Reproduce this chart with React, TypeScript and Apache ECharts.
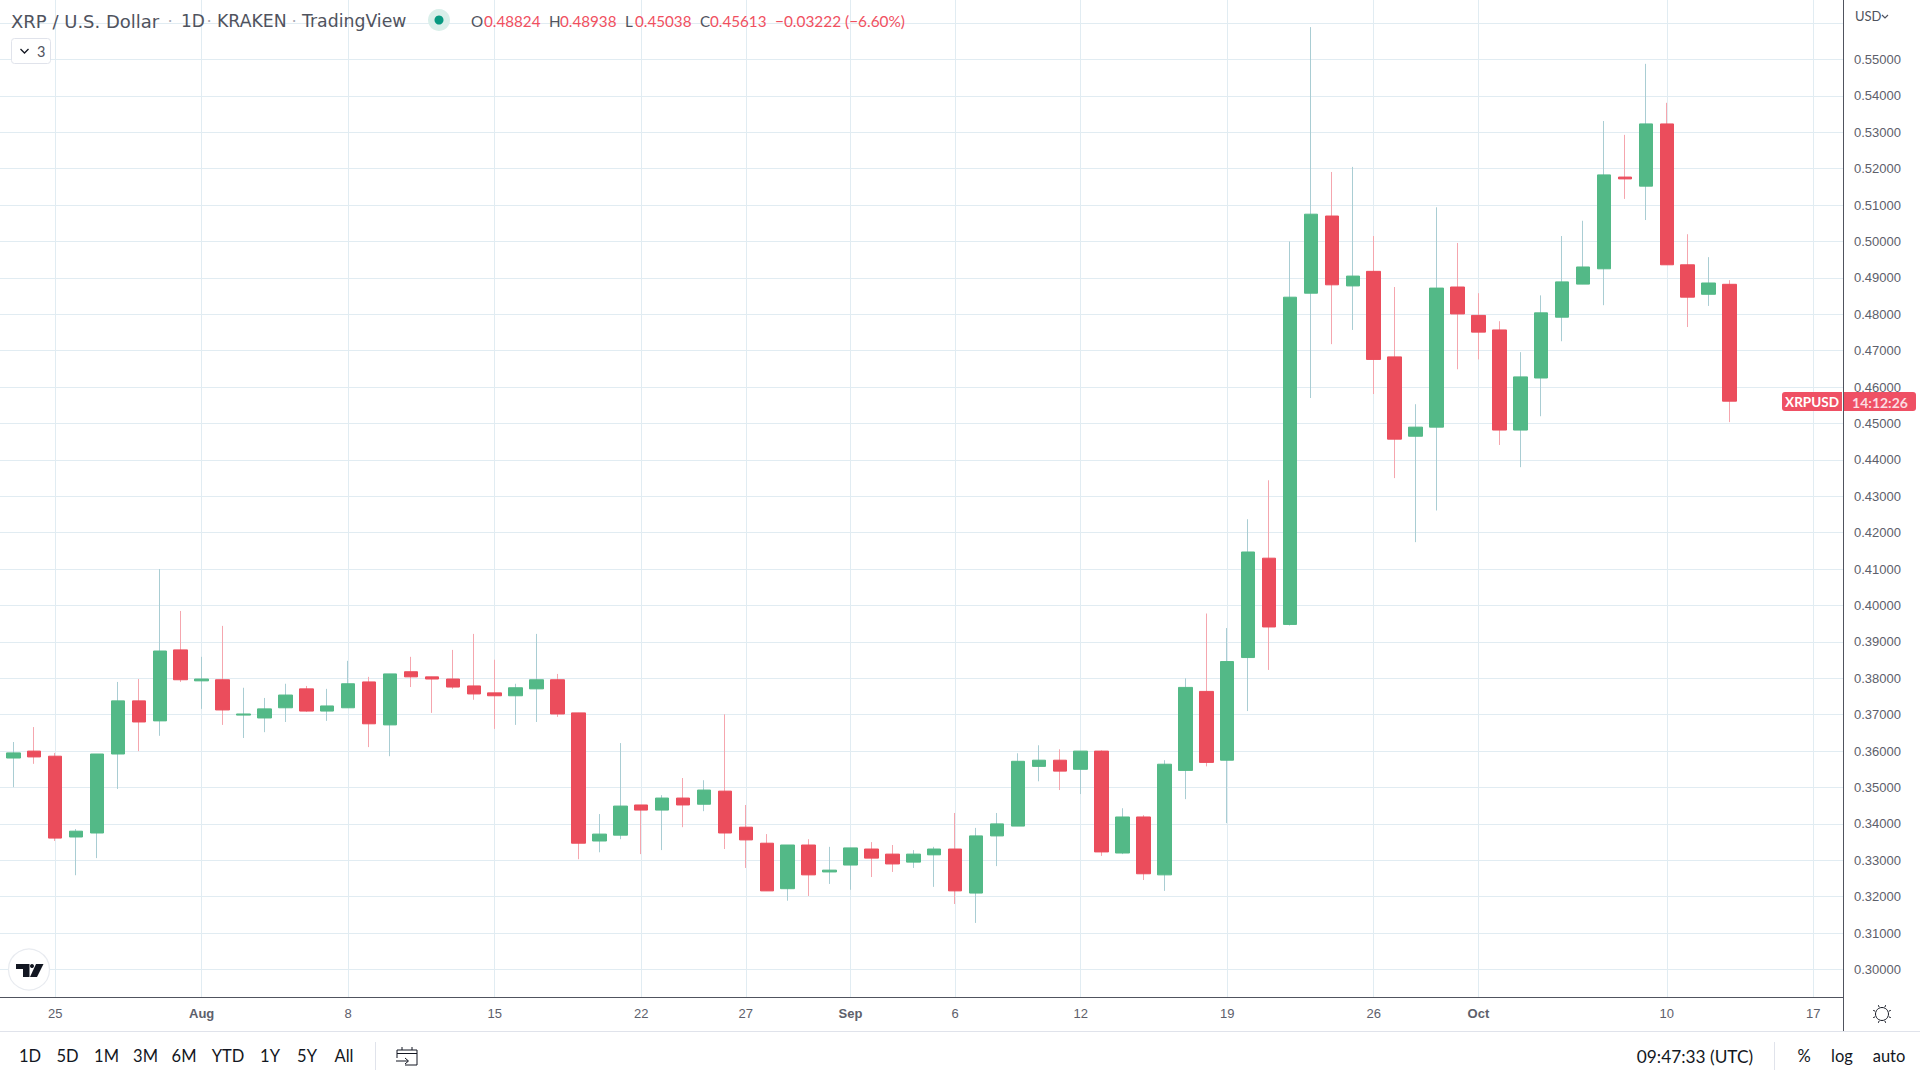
import React, { useEffect, useRef } from "react";
import * as echarts from "echarts";

const opens = [
  0.3672, 0.3581, 0.36, 0.3586, 0.3364, 0.3375, 0.3592, 0.3738, 0.3683, 0.3878,
  0.3793, 0.3796, 0.3699, 0.3691, 0.3719, 0.3771, 0.371, 0.3719, 0.379, 0.3672,
  0.3818, 0.3804, 0.3798, 0.3779, 0.376, 0.3752, 0.3771, 0.3796, 0.3705, 0.3353, 0.3369,
  0.3452, 0.3438, 0.3471, 0.3454, 0.349, 0.3391, 0.3347, 0.3222, 0.3342, 0.3268,
  0.3287, 0.3331, 0.3317, 0.3295, 0.3315, 0.3331, 0.321, 0.3367, 0.3394, 0.3558,
  0.3575, 0.355, 0.36, 0.332, 0.3419, 0.326, 0.3547, 0.3764, 0.3575, 0.3857,
  0.413, 0.3948, 0.4858, 0.507, 0.4878, 0.4918, 0.4683, 0.4465, 0.449, 0.4875,
  0.4797, 0.4757, 0.4482, 0.4625, 0.4792, 0.4883, 0.4925, 0.5177, 0.5152, 0.5323,
  0.4936, 0.4855, 0.48824,
];
const closes = [
  0.3584, 0.3595, 0.3584, 0.3361, 0.338, 0.3592, 0.3738, 0.368, 0.3875, 0.3796,
  0.3798, 0.3713, 0.3702, 0.3716, 0.3754, 0.371, 0.3724, 0.3785, 0.3675, 0.3812,
  0.3804, 0.3798, 0.3776, 0.3757, 0.3752, 0.3774, 0.3796, 0.3702, 0.3347, 0.3372, 0.3449,
  0.3438, 0.3471, 0.3452, 0.3493, 0.3375, 0.3356, 0.3216, 0.3342, 0.326, 0.3273,
  0.3334, 0.3306, 0.329, 0.3317, 0.3331, 0.3216, 0.3367, 0.34, 0.3572, 0.3575,
  0.3545, 0.36, 0.3323, 0.3419, 0.3263, 0.3564, 0.3775, 0.3569, 0.3846, 0.4147,
  0.3941, 0.4847, 0.5075, 0.4881, 0.4905, 0.4676, 0.4457, 0.449, 0.4872, 0.4801,
  0.4751, 0.4482, 0.4628, 0.4804, 0.4889, 0.493, 0.5183, 0.5172, 0.5323, 0.4936,
  0.4847, 0.4886, 0.45613,
];
const lows = [
  0.357, 0.3501, 0.3565, 0.3353, 0.3259, 0.3306, 0.3496, 0.36, 0.3642, 0.379,
  0.3716, 0.3672, 0.3636, 0.3652, 0.368, 0.3708, 0.3683, 0.3719, 0.3611, 0.3586,
  0.3776, 0.3705, 0.3771, 0.3741, 0.3661, 0.3672, 0.368, 0.3694, 0.3303, 0.3322, 0.3358,
  0.3317, 0.3328, 0.3391, 0.3435, 0.3331, 0.3279, 0.3216, 0.3189, 0.3202, 0.3235,
  0.3219, 0.3254, 0.3268, 0.3279, 0.3227, 0.318, 0.3128, 0.3284, 0.3394, 0.3517,
  0.3493, 0.3482, 0.3312, 0.3317, 0.3246, 0.3216, 0.3468, 0.3558, 0.3402, 0.371,
  0.3823, 0.3945, 0.457, 0.4718, 0.4757, 0.4581, 0.435, 0.4174, 0.4261, 0.4649,
  0.4676, 0.4441, 0.438, 0.452, 0.4726, 0.4883, 0.4825, 0.5117, 0.5059, 0.4936,
  0.4765, 0.4823, 0.45038,
];
const highs = [
  0.368, 0.3625, 0.3666, 0.3595, 0.3386, 0.3592, 0.379, 0.3798, 0.41, 0.3985,
  0.3859, 0.3944, 0.3774, 0.3746, 0.3785, 0.3779, 0.3771, 0.3848, 0.3804, 0.3812,
  0.3859, 0.3804, 0.3878, 0.3922, 0.3851, 0.3785, 0.3922, 0.3812, 0.3705, 0.3427, 0.3622,
  0.3452, 0.3479, 0.3526, 0.352, 0.3701, 0.3452, 0.3372, 0.3342, 0.3358, 0.3337,
  0.3334, 0.335, 0.3342, 0.3328, 0.3337, 0.343, 0.3389, 0.343, 0.3594, 0.3616,
  0.3605, 0.36, 0.3602, 0.3443, 0.3424, 0.3575, 0.38, 0.3978, 0.3938, 0.4237,
  0.4344, 0.5, 0.5589, 0.5191, 0.5205, 0.5015, 0.4875, 0.4553, 0.5094, 0.4996,
  0.4858, 0.4781, 0.4696, 0.4852, 0.5015, 0.5057, 0.5331, 0.5293, 0.5488, 0.5381,
  0.502, 0.4957, 0.48938,
];
// Day index 0 is 22 July.
const tickDays = [3, 10, 17, 24, 31, 36, 41, 46, 52, 59, 66, 71, 80, 87];
const tickLabels = ["25", "Aug", "8", "15", "22", "27", "Sep", "6", "12", "19", "26", "Oct", "10", "17"];
const monthLabels = ["Aug", "Sep", "Oct"];
const priceTicks = [0.3, 0.31, 0.32, 0.33, 0.34, 0.35, 0.36, 0.37, 0.38, 0.39, 0.4, 0.41, 0.42, 0.43, 0.44, 0.45, 0.46, 0.47, 0.48, 0.49, 0.5, 0.51, 0.52, 0.53, 0.54, 0.55];
const gridPrices = [...priceTicks, 0.56];
const rangeButtons: [string, number][] = [["1D", 30], ["5D", 67.5], ["1M", 106.5], ["3M", 145.5], ["6M", 184], ["YTD", 228], ["1Y", 270], ["5Y", 307], ["All", 344]];

const UP = "#53b987";
const DOWN = "#eb4d5c";
const WICK_UP = "#a9cdd3";
const WICK_DOWN = "#f5a6ae";
const GRID = "#e1ecf2";
const AXIS = "#50535e";
const TEXT = "#5d606b";
const INK = "#131722";
const UI = "Lato, 'Liberation Sans', sans-serif";
const HEAD = "'DejaVu Sans', 'Open Sans', sans-serif";
const AX = "'Liberation Sans', Arial, sans-serif";
const PW = 1843;
const PH = 997;

function t(text: string, x: number, y: number, fill: string, size = 16, align = "left", extra: any = {}) {
  return { type: "text", z: 50, x, y, style: { text, fill, font: `${extra.weight || "normal"} ${size}px ${extra.family || UI}`, align, verticalAlign: "middle" } };
}
function line(x1: number, y1: number, x2: number, y2: number, stroke: string, lineWidth = 1) {
  return { type: "line", z: 50, shape: { x1, y1, x2, y2 }, style: { stroke, lineWidth } };
}

function buildGraphics() {
  const g: any[] = [];
  const h = { family: HEAD };
  // header
  g.push(t("XRP / U.S. Dollar", 11, 21, AXIS, 18, "left", h));
  g.push(t("·", 170, 21, "#a8abb5", 16.5, "center", h));
  g.push(t("1D", 181, 21, AXIS, 17, "left", h));
  g.push(t("·", 209, 21, "#a8abb5", 16.5, "center", h));
  g.push(t("KRAKEN", 217, 21, AXIS, 17.3, "left", h));
  g.push(t("·", 294, 21, "#a8abb5", 16.5, "center", h));
  g.push(t("TradingView", 302, 21, AXIS, 17.3, "left", h));
  g.push({ type: "circle", z: 50, shape: { cx: 439, cy: 20, r: 11 }, style: { fill: "#d9efea" } });
  g.push({ type: "circle", z: 51, shape: { cx: 439, cy: 20, r: 4.5 }, style: { fill: "#089981" } });
  const RED = "#f0505f";
  g.push(t("O", 471, 21, AXIS, 15.2));
  g.push(t("0.48824", 484, 21, RED, 15.2));
  g.push(t("H", 549, 21, AXIS, 15.2));
  g.push(t("0.48938", 560, 21, RED, 15.2));
  g.push(t("L", 625, 21, AXIS, 15.2));
  g.push(t("0.45038", 635, 21, RED, 15.2));
  g.push(t("C", 700, 21, AXIS, 15.2));
  g.push(t("0.45613", 710, 21, RED, 15.2));
  g.push(t("−0.03222 (−6.60%)", 775, 21, RED, 15.4));
  // collapsed legend
  g.push({ type: "rect", z: 50, shape: { x: 11.5, y: 38.5, width: 39, height: 25, r: 3 }, style: { fill: "#fff", stroke: "#e0e3eb", lineWidth: 1 } });
  g.push({ type: "polyline", z: 51, shape: { points: [[20.5, 49], [24.5, 53], [28.5, 49]] }, style: { fill: "none", stroke: INK, lineWidth: 1.3 } });
  g.push(t("3", 37, 51, AXIS, 14.5));
  // currency
  g.push(t("USD", 1855, 16, AXIS, 13));
  g.push({ type: "polyline", z: 51, shape: { points: [[1882, 15], [1885, 18], [1888, 15]] }, style: { fill: "none", stroke: AXIS, lineWidth: 1.2 } });
  // last price tag
  g.push({ type: "rect", z: 60, shape: { x: 1782, y: 392, width: 60, height: 19, r: [3, 0, 0, 3] }, style: { fill: "#ef5064" } });
  g.push({ type: "rect", z: 60, shape: { x: 1844, y: 392, width: 72, height: 19, r: [0, 3, 3, 0] }, style: { fill: "#ef5064" } });
  const tag1 = t("XRPUSD", 1812, 402, "#fff", 13.5, "center", { weight: "bold" });
  const tag2 = t("14:12:26", 1880, 402, "#fbdde1", 14, "center", { weight: "bold" });
  tag1.z = 61; tag2.z = 61;
  g.push(tag1, tag2);
  // frame lines
  g.push(line(1843.5, 997, 1843.5, 1031, AXIS));
  g.push(line(0, 1031.5, 1920, 1031.5, "#e0e3eb"));
  // settings sun
  g.push({ type: "circle", z: 50, shape: { cx: 1882, cy: 1014, r: 6.5 }, style: { fill: "none", stroke: INK, lineWidth: 1 } });
  for (let a = 0; a < 8; a++) {
    const r = (a * Math.PI) / 4 + Math.PI / 8;
    g.push(line(1882 + Math.cos(r) * 7.5, 1014 + Math.sin(r) * 7.5, 1882 + Math.cos(r) * 9.5, 1014 + Math.sin(r) * 9.5, INK));
  }
  // TV logo
  g.push({ type: "circle", z: 50, shape: { cx: 29, cy: 969.5, r: 20.5 }, style: { fill: "#fff", stroke: "#e8ebf0", lineWidth: 1.2 } });
  g.push({ type: "polygon", z: 51, shape: { points: [[16, 964], [29.5, 964], [29.5, 977], [23, 977], [23, 969], [16, 969]] }, style: { fill: INK } });
  g.push({ type: "circle", z: 51, shape: { cx: 32, cy: 966, r: 2 }, style: { fill: INK } });
  g.push({ type: "polygon", z: 51, shape: { points: [[36, 964], [43.5, 964], [37, 977], [30, 977]] }, style: { fill: INK } });
  // bottom toolbar
  rangeButtons.forEach(([label, x]) => g.push(t(label, x, 1056, INK, 16.5, "center")));
  g.push(line(375.5, 1042, 375.5, 1070, "#e0e3eb"));
  g.push({ type: "polyline", z: 50, shape: { points: [[397, 1058], [397, 1050], [417, 1050], [417, 1065], [405, 1065]] }, style: { fill: "none", stroke: INK, lineWidth: 1 } });
  g.push(line(397, 1053.5, 417, 1053.5, INK));
  g.push(line(402, 1047, 402, 1050, INK));
  g.push(line(412, 1047, 412, 1050, INK));
  g.push({ type: "polyline", z: 50, shape: { points: [[396, 1061], [408, 1061]] }, style: { stroke: INK, lineWidth: 1 } });
  g.push({ type: "polyline", z: 50, shape: { points: [[405, 1058], [408.5, 1061], [405, 1064]] }, style: { fill: "none", stroke: INK, lineWidth: 1 } });
  g.push(t("09:47:33 (UTC)", 1695, 1056, INK, 17.3, "center"));
  g.push(line(1774.5, 1042, 1774.5, 1070, "#e0e3eb"));
  g.push(t("%", 1804, 1056, INK, 16.5, "center"));
  g.push(t("log", 1842, 1056, INK, 16.5, "center"));
  g.push(t("auto", 1889, 1056, INK, 16.5, "center"));
  return g;
}

export default function App() {
  const ref = useRef<HTMLDivElement>(null);
  useEffect(() => {
    document.body.style.margin = "0";
    const chart = echarts.init(ref.current!, undefined, { renderer: "svg" });
    const days = opens.map((_, i) => i);
    const wickData = days.map((i) => [i, opens[i], closes[i], lows[i], highs[i]]);
    const bodyData = days.map((i) => [i, opens[i], closes[i], Math.min(opens[i], closes[i]), Math.max(opens[i], closes[i])]);
    chart.setOption({
      animation: false,
      backgroundColor: "#ffffff",
      grid: { left: 0, top: 0, width: PW, height: PH, containLabel: false },
      xAxis: {
        type: "value",
        min: 0.365,
        max: 88.42,
        axisLine: { show: true, onZero: false, lineStyle: { color: AXIS, width: 1 } },
        axisTick: { show: false, customValues: tickDays },
        splitLine: { show: true, lineStyle: { color: GRID, width: 1 } },
        axisLabel: {
          customValues: tickDays,
          margin: 10,
          color: TEXT,
          fontFamily: AX,
          fontSize: 13,
          hideOverlap: false,
          formatter: (v: number) => {
            const s = tickLabels[tickDays.indexOf(Math.round(v))] ?? "";
            return monthLabels.includes(s) ? `{b|${s}}` : s;
          },
          rich: { b: { fontWeight: "bold", color: TEXT, fontFamily: AX, fontSize: 13 } },
        },
      },
      yAxis: {
        type: "value",
        position: "right",
        min: 0.55 - (997 - 59.5) / 3640,
        max: 0.55 + 59.5 / 3640,
        axisLine: { show: true, onZero: false, lineStyle: { color: AXIS, width: 1 } },
        axisTick: { show: false, customValues: gridPrices },
        splitLine: { show: true, lineStyle: { color: GRID, width: 1 } },
        axisLabel: {
          customValues: priceTicks,
          margin: 11,
          align: "left",
          color: TEXT,
          fontFamily: AX,
          fontSize: 13,
          showMinLabel: true,
          showMaxLabel: true,
          formatter: (v: number) => v.toFixed(5),
        },
      },
      series: [
        {
          type: "candlestick",
          name: "wicks",
          barWidth: 1,
          data: wickData,
          itemStyle: { color: WICK_UP, color0: WICK_DOWN, borderColor: WICK_UP, borderColor0: WICK_DOWN, borderWidth: 1 },
        },
        {
          type: "candlestick",
          name: "bodies",
          barWidth: 14,
          data: bodyData,
          itemStyle: { color: UP, color0: DOWN, borderColor: UP, borderColor0: DOWN, borderWidth: 1 },
        },
      ],
      graphic: { elements: buildGraphics() },
    });
    return () => chart.dispose();
  }, []);
  return <div ref={ref} style={{ position: "absolute", left: 0, top: 0, width: 1920, height: 1080 }} />;
}
